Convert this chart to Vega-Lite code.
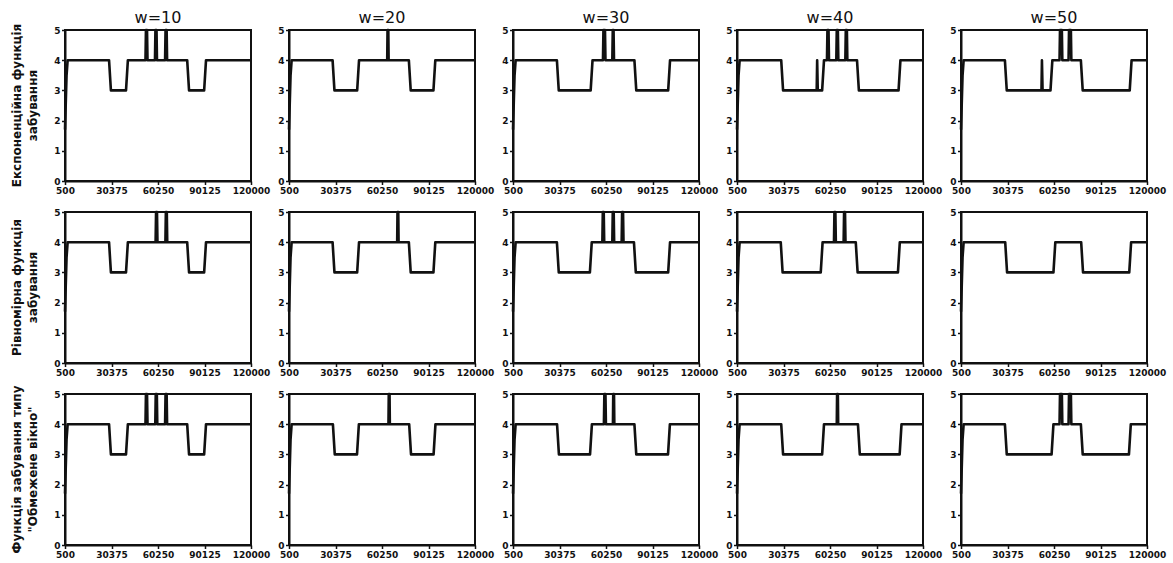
{
  "$schema": "https://vega.github.io/schema/vega-lite/v6.json",
  "background": "white",
  "padding": {"left": 10, "top": 10, "right": 5, "bottom": 2},
  "bounds": "flush",
  "spacing": {"column": 38, "row": 31},
  "datasets": {
    "rows": [
      {"r": 1, "fn": "Експоненційна функція|забування"},
      {"r": 2, "fn": "Рівномірна функція|забування"},
      {"r": 3, "fn": "Функція забування типу|\"Обмежене вікно\""}
    ],
    "series": [
      {"r":1,"w":"w=10","x":500,"y":1.7},{"r":1,"w":"w=10","x":1000,"y":2.6},{"r":1,"w":"w=10","x":1500,"y":3.5},{"r":1,"w":"w=10","x":2200,"y":4},
      {"r":1,"w":"w=10","x":28800,"y":4},{"r":1,"w":"w=10","x":30000,"y":3},{"r":1,"w":"w=10","x":39700,"y":3},{"r":1,"w":"w=10","x":40900,"y":4},
      {"r":1,"w":"w=10","x":52200,"y":4},{"r":1,"w":"w=10","x":52500,"y":5},{"r":1,"w":"w=10","x":53200,"y":5},{"r":1,"w":"w=10","x":53500,"y":4},
      {"r":1,"w":"w=10","x":58300,"y":4},{"r":1,"w":"w=10","x":58600,"y":5},{"r":1,"w":"w=10","x":59300,"y":5},{"r":1,"w":"w=10","x":59600,"y":4},
      {"r":1,"w":"w=10","x":64800,"y":4},{"r":1,"w":"w=10","x":65100,"y":5},{"r":1,"w":"w=10","x":65800,"y":5},{"r":1,"w":"w=10","x":66100,"y":4},
      {"r":1,"w":"w=10","x":79000,"y":4},{"r":1,"w":"w=10","x":80200,"y":3},{"r":1,"w":"w=10","x":89900,"y":3},{"r":1,"w":"w=10","x":91100,"y":4},
      {"r":1,"w":"w=10","x":120000,"y":4},

      {"r":1,"w":"w=20","x":500,"y":1.7},{"r":1,"w":"w=20","x":1000,"y":2.6},{"r":1,"w":"w=20","x":1500,"y":3.5},{"r":1,"w":"w=20","x":2200,"y":4},
      {"r":1,"w":"w=20","x":28500,"y":4},{"r":1,"w":"w=20","x":29700,"y":3},{"r":1,"w":"w=20","x":44300,"y":3},{"r":1,"w":"w=20","x":45500,"y":4},
      {"r":1,"w":"w=20","x":63600,"y":4},{"r":1,"w":"w=20","x":63800,"y":5},{"r":1,"w":"w=20","x":64300,"y":5},{"r":1,"w":"w=20","x":64500,"y":4},
      {"r":1,"w":"w=20","x":77500,"y":4},{"r":1,"w":"w=20","x":78700,"y":3},{"r":1,"w":"w=20","x":93300,"y":3},{"r":1,"w":"w=20","x":94500,"y":4},
      {"r":1,"w":"w=20","x":120000,"y":4},

      {"r":1,"w":"w=30","x":500,"y":1.7},{"r":1,"w":"w=30","x":1000,"y":2.6},{"r":1,"w":"w=30","x":1500,"y":3.5},{"r":1,"w":"w=30","x":2200,"y":4},
      {"r":1,"w":"w=30","x":28700,"y":4},{"r":1,"w":"w=30","x":29900,"y":3},{"r":1,"w":"w=30","x":50400,"y":3},{"r":1,"w":"w=30","x":51600,"y":4},
      {"r":1,"w":"w=30","x":58300,"y":4},{"r":1,"w":"w=30","x":58600,"y":5},{"r":1,"w":"w=30","x":59600,"y":5},{"r":1,"w":"w=30","x":59900,"y":4},
      {"r":1,"w":"w=30","x":64300,"y":4},{"r":1,"w":"w=30","x":64600,"y":5},{"r":1,"w":"w=30","x":65100,"y":5},{"r":1,"w":"w=30","x":65400,"y":4},
      {"r":1,"w":"w=30","x":78500,"y":4},{"r":1,"w":"w=30","x":79700,"y":3},{"r":1,"w":"w=30","x":100200,"y":3},{"r":1,"w":"w=30","x":101400,"y":4},
      {"r":1,"w":"w=30","x":120000,"y":4},

      {"r":1,"w":"w=40","x":500,"y":1.7},{"r":1,"w":"w=40","x":1000,"y":2.6},{"r":1,"w":"w=40","x":1500,"y":3.5},{"r":1,"w":"w=40","x":2200,"y":4},
      {"r":1,"w":"w=40","x":28900,"y":4},{"r":1,"w":"w=40","x":30100,"y":3},{"r":1,"w":"w=40","x":51700,"y":3},{"r":1,"w":"w=40","x":52000,"y":4},
      {"r":1,"w":"w=40","x":52400,"y":3},{"r":1,"w":"w=40","x":55200,"y":3},{"r":1,"w":"w=40","x":56400,"y":4},
      {"r":1,"w":"w=40","x":58300,"y":4},{"r":1,"w":"w=40","x":58600,"y":5},{"r":1,"w":"w=40","x":59300,"y":5},{"r":1,"w":"w=40","x":59600,"y":4},
      {"r":1,"w":"w=40","x":64300,"y":4},{"r":1,"w":"w=40","x":64600,"y":5},{"r":1,"w":"w=40","x":65300,"y":5},{"r":1,"w":"w=40","x":65600,"y":4},
      {"r":1,"w":"w=40","x":70100,"y":4},{"r":1,"w":"w=40","x":70400,"y":5},{"r":1,"w":"w=40","x":71100,"y":5},{"r":1,"w":"w=40","x":71400,"y":4},
      {"r":1,"w":"w=40","x":77600,"y":4},{"r":1,"w":"w=40","x":78800,"y":3},{"r":1,"w":"w=40","x":104300,"y":3},{"r":1,"w":"w=40","x":105500,"y":4},
      {"r":1,"w":"w=40","x":120000,"y":4},

      {"r":1,"w":"w=50","x":500,"y":1.7},{"r":1,"w":"w=50","x":1000,"y":2.6},{"r":1,"w":"w=50","x":1500,"y":3.5},{"r":1,"w":"w=50","x":2200,"y":4},
      {"r":1,"w":"w=50","x":28700,"y":4},{"r":1,"w":"w=50","x":29900,"y":3},{"r":1,"w":"w=50","x":52200,"y":3},{"r":1,"w":"w=50","x":52500,"y":4},
      {"r":1,"w":"w=50","x":52900,"y":3},{"r":1,"w":"w=50","x":58000,"y":3},{"r":1,"w":"w=50","x":59200,"y":4},
      {"r":1,"w":"w=50","x":63800,"y":4},{"r":1,"w":"w=50","x":64100,"y":5},{"r":1,"w":"w=50","x":65300,"y":5},{"r":1,"w":"w=50","x":65600,"y":4},
      {"r":1,"w":"w=50","x":69600,"y":4},{"r":1,"w":"w=50","x":69900,"y":5},{"r":1,"w":"w=50","x":71100,"y":5},{"r":1,"w":"w=50","x":71400,"y":4},
      {"r":1,"w":"w=50","x":77500,"y":4},{"r":1,"w":"w=50","x":78700,"y":3},{"r":1,"w":"w=50","x":108900,"y":3},{"r":1,"w":"w=50","x":110100,"y":4},
      {"r":1,"w":"w=50","x":120000,"y":4},

      {"r":2,"w":"w=10","x":500,"y":1.7},{"r":2,"w":"w=10","x":1000,"y":2.6},{"r":2,"w":"w=10","x":1500,"y":3.5},{"r":2,"w":"w=10","x":2200,"y":4},
      {"r":2,"w":"w=10","x":28800,"y":4},{"r":2,"w":"w=10","x":30000,"y":3},{"r":2,"w":"w=10","x":39700,"y":3},{"r":2,"w":"w=10","x":40900,"y":4},
      {"r":2,"w":"w=10","x":58700,"y":4},{"r":2,"w":"w=10","x":59000,"y":5},{"r":2,"w":"w=10","x":59600,"y":5},{"r":2,"w":"w=10","x":59900,"y":4},
      {"r":2,"w":"w=10","x":65000,"y":4},{"r":2,"w":"w=10","x":65300,"y":5},{"r":2,"w":"w=10","x":65900,"y":5},{"r":2,"w":"w=10","x":66200,"y":4},
      {"r":2,"w":"w=10","x":79000,"y":4},{"r":2,"w":"w=10","x":80200,"y":3},{"r":2,"w":"w=10","x":89900,"y":3},{"r":2,"w":"w=10","x":91100,"y":4},
      {"r":2,"w":"w=10","x":120000,"y":4},

      {"r":2,"w":"w=20","x":500,"y":1.7},{"r":2,"w":"w=20","x":1000,"y":2.6},{"r":2,"w":"w=20","x":1500,"y":3.5},{"r":2,"w":"w=20","x":2200,"y":4},
      {"r":2,"w":"w=20","x":28500,"y":4},{"r":2,"w":"w=20","x":29700,"y":3},{"r":2,"w":"w=20","x":44300,"y":3},{"r":2,"w":"w=20","x":45500,"y":4},
      {"r":2,"w":"w=20","x":70000,"y":4},{"r":2,"w":"w=20","x":70200,"y":5},{"r":2,"w":"w=20","x":70700,"y":5},{"r":2,"w":"w=20","x":70900,"y":4},
      {"r":2,"w":"w=20","x":77500,"y":4},{"r":2,"w":"w=20","x":78700,"y":3},{"r":2,"w":"w=20","x":93300,"y":3},{"r":2,"w":"w=20","x":94500,"y":4},
      {"r":2,"w":"w=20","x":120000,"y":4},

      {"r":2,"w":"w=30","x":500,"y":1.7},{"r":2,"w":"w=30","x":1000,"y":2.6},{"r":2,"w":"w=30","x":1500,"y":3.5},{"r":2,"w":"w=30","x":2200,"y":4},
      {"r":2,"w":"w=30","x":28700,"y":4},{"r":2,"w":"w=30","x":29900,"y":3},{"r":2,"w":"w=30","x":49900,"y":3},{"r":2,"w":"w=30","x":51100,"y":4},
      {"r":2,"w":"w=30","x":57900,"y":4},{"r":2,"w":"w=30","x":58200,"y":5},{"r":2,"w":"w=30","x":58800,"y":5},{"r":2,"w":"w=30","x":59100,"y":4},
      {"r":2,"w":"w=30","x":64300,"y":4},{"r":2,"w":"w=30","x":64600,"y":5},{"r":2,"w":"w=30","x":65200,"y":5},{"r":2,"w":"w=30","x":65500,"y":4},
      {"r":2,"w":"w=30","x":70300,"y":4},{"r":2,"w":"w=30","x":70600,"y":5},{"r":2,"w":"w=30","x":71200,"y":5},{"r":2,"w":"w=30","x":71500,"y":4},
      {"r":2,"w":"w=30","x":78200,"y":4},{"r":2,"w":"w=30","x":79400,"y":3},{"r":2,"w":"w=30","x":100200,"y":3},{"r":2,"w":"w=30","x":101400,"y":4},
      {"r":2,"w":"w=30","x":120000,"y":4},

      {"r":2,"w":"w=40","x":500,"y":1.7},{"r":2,"w":"w=40","x":1000,"y":2.6},{"r":2,"w":"w=40","x":1500,"y":3.5},{"r":2,"w":"w=40","x":2200,"y":4},
      {"r":2,"w":"w=40","x":28600,"y":4},{"r":2,"w":"w=40","x":29800,"y":3},{"r":2,"w":"w=40","x":54300,"y":3},{"r":2,"w":"w=40","x":55500,"y":4},
      {"r":2,"w":"w=40","x":62800,"y":4},{"r":2,"w":"w=40","x":63100,"y":5},{"r":2,"w":"w=40","x":63700,"y":5},{"r":2,"w":"w=40","x":64000,"y":4},
      {"r":2,"w":"w=40","x":69000,"y":4},{"r":2,"w":"w=40","x":69300,"y":5},{"r":2,"w":"w=40","x":69900,"y":5},{"r":2,"w":"w=40","x":70200,"y":4},
      {"r":2,"w":"w=40","x":76800,"y":4},{"r":2,"w":"w=40","x":78000,"y":3},{"r":2,"w":"w=40","x":103900,"y":3},{"r":2,"w":"w=40","x":105100,"y":4},
      {"r":2,"w":"w=40","x":120000,"y":4},

      {"r":2,"w":"w=50","x":500,"y":1.7},{"r":2,"w":"w=50","x":1000,"y":2.6},{"r":2,"w":"w=50","x":1500,"y":3.5},{"r":2,"w":"w=50","x":2200,"y":4},
      {"r":2,"w":"w=50","x":28900,"y":4},{"r":2,"w":"w=50","x":30100,"y":3},{"r":2,"w":"w=50","x":59900,"y":3},{"r":2,"w":"w=50","x":61100,"y":4},
      {"r":2,"w":"w=50","x":77700,"y":4},{"r":2,"w":"w=50","x":78900,"y":3},{"r":2,"w":"w=50","x":108600,"y":3},{"r":2,"w":"w=50","x":109800,"y":4},
      {"r":2,"w":"w=50","x":120000,"y":4},

      {"r":3,"w":"w=10","x":500,"y":1.7},{"r":3,"w":"w=10","x":1000,"y":2.6},{"r":3,"w":"w=10","x":1500,"y":3.5},{"r":3,"w":"w=10","x":2200,"y":4},
      {"r":3,"w":"w=10","x":28800,"y":4},{"r":3,"w":"w=10","x":30000,"y":3},{"r":3,"w":"w=10","x":39700,"y":3},{"r":3,"w":"w=10","x":40900,"y":4},
      {"r":3,"w":"w=10","x":52200,"y":4},{"r":3,"w":"w=10","x":52500,"y":5},{"r":3,"w":"w=10","x":53200,"y":5},{"r":3,"w":"w=10","x":53500,"y":4},
      {"r":3,"w":"w=10","x":58500,"y":4},{"r":3,"w":"w=10","x":58800,"y":5},{"r":3,"w":"w=10","x":59500,"y":5},{"r":3,"w":"w=10","x":59800,"y":4},
      {"r":3,"w":"w=10","x":64800,"y":4},{"r":3,"w":"w=10","x":65100,"y":5},{"r":3,"w":"w=10","x":65800,"y":5},{"r":3,"w":"w=10","x":66100,"y":4},
      {"r":3,"w":"w=10","x":79000,"y":4},{"r":3,"w":"w=10","x":80200,"y":3},{"r":3,"w":"w=10","x":89900,"y":3},{"r":3,"w":"w=10","x":91100,"y":4},
      {"r":3,"w":"w=10","x":120000,"y":4},

      {"r":3,"w":"w=20","x":500,"y":1.7},{"r":3,"w":"w=20","x":1000,"y":2.6},{"r":3,"w":"w=20","x":1500,"y":3.5},{"r":3,"w":"w=20","x":2200,"y":4},
      {"r":3,"w":"w=20","x":28700,"y":4},{"r":3,"w":"w=20","x":29900,"y":3},{"r":3,"w":"w=20","x":44200,"y":3},{"r":3,"w":"w=20","x":45400,"y":4},
      {"r":3,"w":"w=20","x":64400,"y":4},{"r":3,"w":"w=20","x":64600,"y":5},{"r":3,"w":"w=20","x":65100,"y":5},{"r":3,"w":"w=20","x":65300,"y":4},
      {"r":3,"w":"w=20","x":77700,"y":4},{"r":3,"w":"w=20","x":78900,"y":3},{"r":3,"w":"w=20","x":93400,"y":3},{"r":3,"w":"w=20","x":94600,"y":4},
      {"r":3,"w":"w=20","x":120000,"y":4},

      {"r":3,"w":"w=30","x":500,"y":1.7},{"r":3,"w":"w=30","x":1000,"y":2.6},{"r":3,"w":"w=30","x":1500,"y":3.5},{"r":3,"w":"w=30","x":2200,"y":4},
      {"r":3,"w":"w=30","x":28800,"y":4},{"r":3,"w":"w=30","x":30000,"y":3},{"r":3,"w":"w=30","x":50000,"y":3},{"r":3,"w":"w=30","x":51200,"y":4},
      {"r":3,"w":"w=30","x":58900,"y":4},{"r":3,"w":"w=30","x":59200,"y":5},{"r":3,"w":"w=30","x":59900,"y":5},{"r":3,"w":"w=30","x":60200,"y":4},
      {"r":3,"w":"w=30","x":64700,"y":4},{"r":3,"w":"w=30","x":64900,"y":5},{"r":3,"w":"w=30","x":65400,"y":5},{"r":3,"w":"w=30","x":65600,"y":4},
      {"r":3,"w":"w=30","x":78500,"y":4},{"r":3,"w":"w=30","x":79700,"y":3},{"r":3,"w":"w=30","x":100100,"y":3},{"r":3,"w":"w=30","x":101300,"y":4},
      {"r":3,"w":"w=30","x":120000,"y":4},

      {"r":3,"w":"w=40","x":500,"y":1.7},{"r":3,"w":"w=40","x":1000,"y":2.6},{"r":3,"w":"w=40","x":1500,"y":3.5},{"r":3,"w":"w=40","x":2200,"y":4},
      {"r":3,"w":"w=40","x":28900,"y":4},{"r":3,"w":"w=40","x":30100,"y":3},{"r":3,"w":"w=40","x":55200,"y":3},{"r":3,"w":"w=40","x":56400,"y":4},
      {"r":3,"w":"w=40","x":64600,"y":4},{"r":3,"w":"w=40","x":64800,"y":5},{"r":3,"w":"w=40","x":65300,"y":5},{"r":3,"w":"w=40","x":65500,"y":4},
      {"r":3,"w":"w=40","x":78200,"y":4},{"r":3,"w":"w=40","x":79400,"y":3},{"r":3,"w":"w=40","x":105000,"y":3},{"r":3,"w":"w=40","x":106200,"y":4},
      {"r":3,"w":"w=40","x":120000,"y":4},

      {"r":3,"w":"w=50","x":500,"y":1.7},{"r":3,"w":"w=50","x":1000,"y":2.6},{"r":3,"w":"w=50","x":1500,"y":3.5},{"r":3,"w":"w=50","x":2200,"y":4},
      {"r":3,"w":"w=50","x":28700,"y":4},{"r":3,"w":"w=50","x":29900,"y":3},{"r":3,"w":"w=50","x":58700,"y":3},{"r":3,"w":"w=50","x":59900,"y":4},
      {"r":3,"w":"w=50","x":63800,"y":4},{"r":3,"w":"w=50","x":64100,"y":5},{"r":3,"w":"w=50","x":65300,"y":5},{"r":3,"w":"w=50","x":65600,"y":4},
      {"r":3,"w":"w=50","x":69600,"y":4},{"r":3,"w":"w=50","x":69900,"y":5},{"r":3,"w":"w=50","x":71100,"y":5},{"r":3,"w":"w=50","x":71400,"y":4},
      {"r":3,"w":"w=50","x":77500,"y":4},{"r":3,"w":"w=50","x":78700,"y":3},{"r":3,"w":"w=50","x":108400,"y":3},{"r":3,"w":"w=50","x":109600,"y":4},
      {"r":3,"w":"w=50","x":120000,"y":4}
    ]
  },
  "data": {"name": "series"},
  "transform": [
    {"lookup": "r", "from": {"data": {"name": "rows"}, "key": "r", "fields": ["fn"]}}
  ],
  "facet": {
    "row": {
      "field": "fn", "type": "nominal",
      "sort": {"field": "r", "op": "min"},
      "header": {
        "title": null,
        "labelExpr": "split(datum.value, '|')",
        "labelAngle": -90,
        "labelOrient": "left",
        "labelFont": "DejaVu Sans",
        "labelFontSize": 12,
        "labelFontWeight": "bold",
        "labelColor": "#111",
        "labelLineHeight": 16,
        "labelPadding": 20
      }
    },
    "column": {
      "field": "w", "type": "nominal",
      "sort": ["w=10", "w=20", "w=30", "w=40", "w=50"],
      "header": {
        "title": null,
        "labelFont": "DejaVu Sans",
        "labelFontSize": 16,
        "labelColor": "#111",
        "labelPadding": 4
      }
    }
  },
  "spec": {
    "width": 186,
    "height": 151,
    "mark": {"type": "line", "color": "#111", "strokeWidth": 2.6, "strokeJoin": "round", "clip": false},
    "encoding": {
      "x": {
        "field": "x", "type": "quantitative",
        "scale": {"domain": [500, 120000], "nice": false, "zero": false},
        "axis": {"title": null, "values": [500, 30375, 60250, 90125, 120000], "format": "d", "labelFlush": false, "labelOverlap": false}
      },
      "y": {
        "field": "y", "type": "quantitative",
        "scale": {"domain": [0, 5], "nice": false, "zero": true},
        "axis": {"title": null, "values": [0, 1, 2, 3, 4, 5], "format": "d", "labelOverlap": false}
      },
      "order": {"field": "x", "type": "quantitative"}
    }
  },
  "resolve": {"axis": {"x": "independent", "y": "independent"}},
  "config": {
    "view": {"stroke": "#111", "strokeWidth": 2},
    "axis": {
      "grid": false,
      "domain": true,
      "domainColor": "#111",
      "domainWidth": 2,
      "tickColor": "#111",
      "tickWidth": 1.5,
      "tickSize": 3.5,
      "labelFont": "DejaVu Sans",
      "labelFontSize": 9,
      "labelFontWeight": "bold",
      "labelColor": "#111",
      "labelPadding": 1.5
    }
  }
}
